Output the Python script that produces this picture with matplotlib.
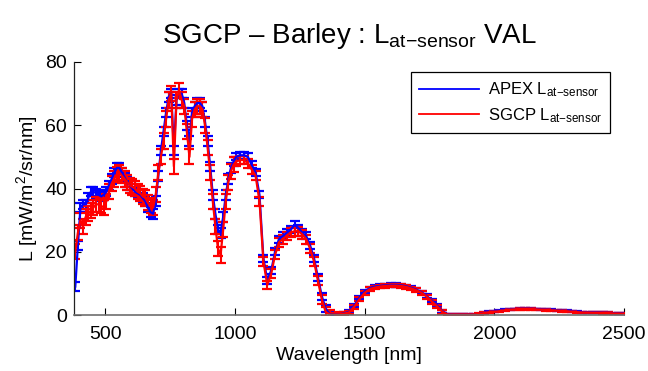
import matplotlib
matplotlib.use("Agg")
import matplotlib.pyplot as plt
from matplotlib.lines import Line2D

plt.rcParams['font.family'] = ['Liberation Sans', 'DejaVu Sans']
plt.rcParams['mathtext.fontset'] = 'custom'
plt.rcParams['mathtext.rm'] = 'Liberation Sans'
plt.rcParams['mathtext.it'] = 'Liberation Sans'

# ---- data ----
wavelength = [
    385, 395, 405, 415, 425, 435, 445, 455, 465, 475, 485, 495, 505, 515, 525, 535,
    545, 555, 565, 575, 585, 595, 605, 615, 625, 635, 645, 655, 665, 675, 685, 695,
    705, 715, 725, 735, 745, 755, 765, 775, 785, 795, 805, 815, 825, 835, 845, 855,
    865, 875, 885, 895, 905, 915, 925, 935, 945, 955, 965, 975, 985, 995,
    1005, 1020, 1035, 1050, 1065, 1080, 1095, 1110, 1125, 1140, 1155, 1170, 1185,
    1200, 1215, 1230, 1245, 1260, 1275, 1290, 1305, 1320, 1335, 1350, 1365,
    1380, 1400, 1420, 1440, 1460, 1480, 1500, 1520, 1540, 1560, 1580, 1600, 1620,
    1640, 1660, 1680, 1700, 1720, 1740, 1760, 1780, 1800, 1820, 1840, 1860, 1880,
    1900, 1920, 1940, 1960, 1980, 2000, 2020, 2040, 2060, 2080, 2100, 2120, 2140,
    2160, 2180, 2200, 2220, 2240, 2260, 2280, 2300, 2320, 2340, 2360, 2380, 2400,
    2420, 2440, 2460, 2480, 2500]

apex_L = [
    9, 22, 34, 35, 35, 37, 39, 39, 38.5, 38, 37.5, 38, 39, 41, 43, 45,
    46.5, 46.5, 45, 43.5, 42, 41, 40, 39, 38.5, 38, 37, 36, 34, 32.5, 32, 36,
    44, 52, 58, 64, 69, 70, 52, 68, 70, 70, 67, 60, 55, 64, 66, 67,
    67, 66, 61, 55, 47, 38, 32, 27, 26, 31, 38, 43, 46.5, 48.5,
    50, 50.5, 50.5, 50, 47.5, 45, 38, 18, 11, 14, 20, 24, 25,
    26, 27, 28.5, 27.5, 26, 25, 22, 18, 12, 6, 2, 0.3,
    0.1, 0.2, 0.5, 1.0, 3.0, 5.5, 7.5, 8.5, 9.0, 9.2, 9.4, 9.5, 9.5,
    9.4, 9.1, 8.6, 8.0, 7.2, 6.0, 4.5, 3.0, 1.2, 0.3, 0.1, 0.1, 0.1,
    0.1, 0.2, 0.3, 0.7, 1.0, 1.1, 1.3, 1.6, 1.8, 1.9, 2.0, 2.0, 2.0,
    1.9, 1.8, 1.7, 1.6, 1.5, 1.4, 1.3, 1.1, 1.0, 0.9, 0.9, 0.8, 0.8,
    0.7, 0.7, 0.6, 0.6, 0.5]

sgcp_L = [
    20, 26, 30, 28, 31, 32, 33, 34, 35, 35, 34.5, 34, 36, 39, 41.5, 43,
    44.5, 45, 44, 43, 42, 41, 40.5, 40, 39, 38.5, 37.5, 37, 35.5, 34.5, 34, 38,
    45, 50, 55, 62, 68, 70, 47, 68, 71, 68, 66, 58, 50, 62, 65, 66,
    66, 65, 60, 53, 45, 36, 28, 21, 19, 27, 36, 42, 45.5, 47.5,
    48.5, 49, 49, 48, 46, 44, 36, 17, 9.5, 13, 19, 23, 24,
    25, 26, 26.5, 26.5, 25.5, 24, 21, 17, 11, 5, 1, 0.2,
    0.1, 0.2, 0.4, 0.8, 2.6, 5.0, 7.0, 8.2, 8.7, 9.0, 9.2, 9.3, 9.3,
    9.2, 8.9, 8.4, 7.8, 7.0, 5.8, 4.2, 2.7, 1.0, 0.2, 0.1, 0.1, 0.1,
    0.1, 0.2, 0.3, 0.6, 0.9, 1.0, 1.2, 1.5, 1.7, 1.8, 1.9, 1.9, 1.9,
    1.8, 1.7, 1.6, 1.5, 1.4, 1.3, 1.2, 1.0, 0.9, 0.8, 0.8, 0.7, 0.7,
    0.6, 0.6, 0.5, 0.5, 0.4]

apex_err = [1.5] * 62 + [1.1] * 25 + [0.5] * 22 + [0.15] * 35
sgcp_err = [2.4] * 62 + [1.4] * 25 + [0.6] * 22 + [0.2] * 35

x_ticks = [500, 1000, 1500, 2000, 2500]
y_ticks = [0, 20, 40, 60, 80]

# ---- figure ----
fig = plt.figure(figsize=(6.48, 3.71), dpi=100)
ax = fig.add_axes([74 / 648, 56 / 371, 550 / 648, 253 / 371])

ax.errorbar(wavelength, apex_L, yerr=apex_err, color=(0, 0, 1), ecolor=(0, 0, 1),
            lw=1.6, elinewidth=1.5, capsize=3.8, capthick=1.6)
ax.errorbar(wavelength, sgcp_L, yerr=sgcp_err, color=(1, 0, 0), ecolor=(1, 0, 0),
            lw=1.6, elinewidth=1.5, capsize=3.8, capthick=1.6)

ax.set_xlim(380, 2500)
ax.set_ylim(0, 80)
ax.set_xticks(x_ticks)
ax.set_yticks(y_ticks)
ax.tick_params(direction='in', length=5, labelsize=14, width=0.8,
               top=False, right=False)
ax.tick_params(axis='x', pad=8)
ax.tick_params(axis='y', pad=5)
ax.spines['top'].set_visible(False)
ax.spines['right'].set_visible(False)
ax.spines['left'].set_color('#222222')
ax.spines['bottom'].set_color('#6e6e6e')
ax.spines['left'].set_linewidth(0.9)
ax.spines['bottom'].set_linewidth(1.2)

ax.set_xlabel('Wavelength [nm]', fontsize=14, labelpad=3)
ax.set_ylabel(r'L [mW/m$^{2}$/sr/nm]', fontsize=14, labelpad=4)
ax.set_title(r'SGCP – Barley : L$_{\mathrm{at{-}sensor}}$ VAL', fontsize=20, pad=14)

handles = [Line2D([], [], color=(0, 0, 1), lw=1.3),
           Line2D([], [], color=(1, 0, 0), lw=1.3)]
labels = [r'APEX L$_{\mathrm{at{-}sensor}}$', r'SGCP L$_{\mathrm{at{-}sensor}}$']
leg = ax.legend(handles, labels, loc='upper right', bbox_to_anchor=(0.975, 0.96),
                fontsize=12, frameon=True, fancybox=False, edgecolor='black',
                framealpha=1, handlelength=3.6, handletextpad=0.5,
                borderpad=0.5, labelspacing=0.4, borderaxespad=0)
leg.get_frame().set_linewidth(0.9)

fig.savefig('out.png', dpi=100)
